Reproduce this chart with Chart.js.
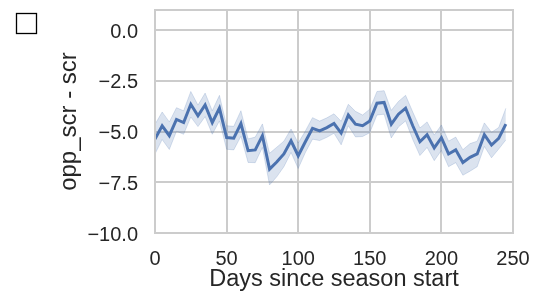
<!DOCTYPE html>
<html>
<head>
<meta charset="utf-8">
<script src="https://cdn.jsdelivr.net/npm/chart.js@4/dist/chart.umd.min.js"></script>
<style>
	body { margin: 0; background: #fff; }
	#wrap { width: 540px; height: 294px; }
</style>
</head>
<body>
<div id="wrap"><canvas id="myLine" width="540" height="294"></canvas></div>
<script>
// days since season start (binned every 5 days)
var days = [0,5,10,15,20,25,30,35,40,45,50,55,60,65,70,75,80,85,90,95,100,105,110,115,120,125,130,135,140,145,150,155,160,165,170,175,180,185,190,195,200,205,210,215,220,225,230,235,240,245];

// mean of opp_scr - scr
var meanDiff = [-5.37,-4.71,-5.2,-4.4,-4.55,-3.65,-4.22,-3.68,-4.55,-3.84,-5.29,-5.32,-4.6,-5.94,-5.9,-5.2,-6.85,-6.5,-6.1,-5.45,-6.19,-5.5,-4.84,-4.96,-4.8,-4.6,-5.07,-4.18,-4.63,-4.71,-4.47,-3.6,-3.56,-4.63,-4.14,-3.84,-4.71,-5.5,-5.15,-5.8,-5.3,-6.1,-5.9,-6.52,-6.27,-6.1,-5.15,-5.66,-5.33,-4.63];

// confidence band
var lowerCI = [-6.1,-5.39,-5.88,-4.98,-5.13,-4.28,-4.75,-4.26,-5.13,-4.47,-5.87,-5.9,-5.23,-6.52,-6.53,-5.78,-7.63,-7.23,-6.73,-6.03,-6.82,-6.03,-5.37,-5.44,-5.28,-5.08,-5.65,-4.71,-5.26,-5.24,-5.05,-4.18,-4.14,-5.31,-4.77,-4.47,-5.39,-6.18,-5.78,-6.43,-5.93,-6.73,-6.53,-7.15,-6.95,-6.73,-5.73,-6.29,-5.86,-5.41];
var upperCI = [-4.64,-4.03,-4.52,-3.82,-3.97,-3.02,-3.69,-3.1,-3.97,-3.21,-4.71,-4.74,-3.97,-5.36,-5.27,-4.62,-6.07,-5.77,-5.47,-4.87,-5.56,-4.97,-4.31,-4.48,-4.32,-4.12,-4.49,-3.65,-4.0,-4.18,-3.89,-3.02,-2.98,-3.95,-3.51,-3.21,-4.03,-4.82,-4.52,-5.17,-4.67,-5.47,-5.27,-5.89,-5.59,-5.47,-4.57,-5.03,-4.8,-3.85];

var xTicks = [0,50,100,150,200,250];
var yTicks = [-10,-7.5,-5,-2.5,0];

var blue = '#4c72b0';
var bandFill = 'rgba(76,114,176,0.2)';
var gridColor = '#cccccc';
var textColor = '#262626';

function pts(arr) {
	return arr.map(function(v, i) { return {x: days[i], y: v}; });
}

// frame around the plot + the little empty box top left
var framePlugin = {
	id: 'frame',
	afterDraw: function(chart) {
		var ctx = chart.ctx;
		var a = chart.chartArea;
		ctx.save();
		ctx.strokeStyle = gridColor;
		ctx.lineWidth = 2;
		ctx.strokeRect(a.left, a.top, a.right - a.left, a.bottom - a.top);
		ctx.strokeStyle = '#000';
		ctx.lineWidth = 1.3;
		ctx.strokeRect(16.5, 13.5, 20, 20);
		ctx.restore();
	}
};

var config = {
	type: 'line',
	data: {
		datasets: [{
			data: pts(lowerCI),
			borderWidth: 1,
			borderColor: bandFill,
			pointRadius: 0,
			fill: false,
			backgroundColor: bandFill
		}, {
			data: pts(upperCI),
			borderWidth: 1,
			borderColor: bandFill,
			pointRadius: 0,
			fill: '-1',
			backgroundColor: bandFill
		}, {
			data: pts(meanDiff),
			borderColor: blue,
			borderWidth: 3,
			pointRadius: 0,
			fill: false
		}]
	},
	options: {
		responsive: false,
		animation: false,
		devicePixelRatio: 1,
		layout: { padding: { left: 51, right: 27, top: 10, bottom: 0 } },
		plugins: {
			legend: { display: false },
			tooltip: { enabled: false }
		},
		scales: {
			x: {
				type: 'linear',
				min: 0,
				max: 250,
				afterBuildTicks: function(s) { s.ticks = xTicks.map(function(v) { return {value: v}; }); },
				afterFit: function(s) { s.height = 61; s.paddingLeft = 0; s.paddingRight = 0; },
				grid: { color: gridColor, lineWidth: 2, drawTicks: false },
				border: { display: false },
				ticks: {
					padding: 14,
					maxRotation: 0,
					color: textColor,
					font: { family: 'Liberation Sans', size: 20 },
					callback: function(v) { return String(v); }
				},
				title: {
					display: true,
					text: 'Days since season start',
					color: textColor,
					padding: { top: 0, bottom: 0 },
					font: { family: 'Liberation Sans', size: 23.5 }
				}
			},
			y: {
				min: -10,
				max: 1,
				afterBuildTicks: function(s) { s.ticks = yTicks.map(function(v) { return {value: v}; }); },
				afterFit: function(s) { s.width = 104; s.paddingTop = 0; s.paddingBottom = 0; },
				grid: { color: gridColor, lineWidth: 2, drawTicks: false },
				border: { display: false },
				ticks: {
					padding: 17,
					labelOffset: 2,
					color: textColor,
					font: { family: 'Liberation Sans', size: 20 },
					callback: function(v) { return v.toFixed(1).replace('-', '\u2212'); }
				},
				title: {
					display: true,
					text: 'opp_scr - scr',
					color: textColor,
					padding: { top: 4, bottom: 4 },
					font: { family: 'Liberation Sans', size: 24 }
				}
			}
		}
	},
	plugins: [framePlugin]
};

var myLine = new Chart(document.getElementById('myLine'), config);
</script>
</body>
</html>
